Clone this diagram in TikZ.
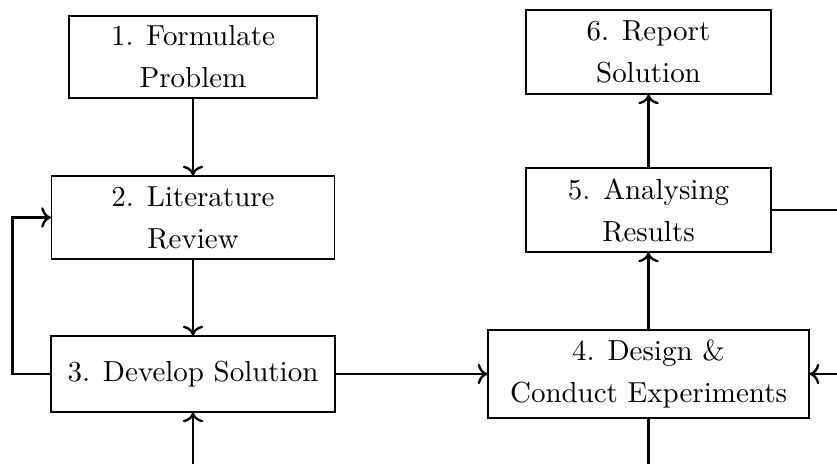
\documentclass[tikz,border=0pt]{standalone}
\usetikzlibrary{arrows.meta}
\def\px{0.345pt}
\tikzset{
  stepbox/.style={draw, align=center, inner sep=0pt,
    font=\fontsize{10}{14.5}\selectfont},
  flow/.style={->, thick},
}
\begin{document}
\begin{tikzpicture}[x=\px, y=-\px]
  \useasboundingbox (0,0) rectangle (837,464);
  \clip (0,0) rectangle (837,464);

  % process steps
  \node[stepbox, minimum width={248*\px}, minimum height={82*\px}] (n1) at (193,57) {1. Formulate\\Problem};
  \node[stepbox, minimum width={283*\px}, minimum height={83*\px}] (n2) at (193,217.5) {2. Literature\\Review};
  \node[stepbox, minimum width={284*\px}, minimum height={76*\px}] (n3) at (193,374) {3. Develop Solution};
  \node[stepbox, minimum width={321*\px}, minimum height={88*\px}] (n4) at (648.5,374) {4. Design \&\\Conduct Experiments};
  \node[stepbox, minimum width={245*\px}, minimum height={84*\px}] (n5) at (648.5,210) {5. Analysing\\Results};
  \node[stepbox, minimum width={245*\px}, minimum height={84*\px}] (n6) at (648.5,52) {6. Report\\Solution};

  % loose ends running off the page
  \coordinate (r5) at (860,210);
  \coordinate (r4) at (860,374);
  \coordinate (b3) at (193,490);
  \coordinate (b4) at (648.5,490);

  % connectors
  \draw[flow] (n1) -- (n2);
  \draw[flow] (n2) -- (n3);
  \draw[flow] (n3.west) -- ++(-38,0) |- (n2.west);
  \draw[flow] (n3) -- (n4);
  \draw[flow] (n4) -- (n5);
  \draw[flow] (n5) -- (n6);
  \draw[thick] (n5.east) -- (r5);
  \draw[flow] (r4) -- (n4.east);
  \draw[flow] (b3) -- (n3);
  \draw[thick] (n4) -- (b4);
\end{tikzpicture}
\end{document}
